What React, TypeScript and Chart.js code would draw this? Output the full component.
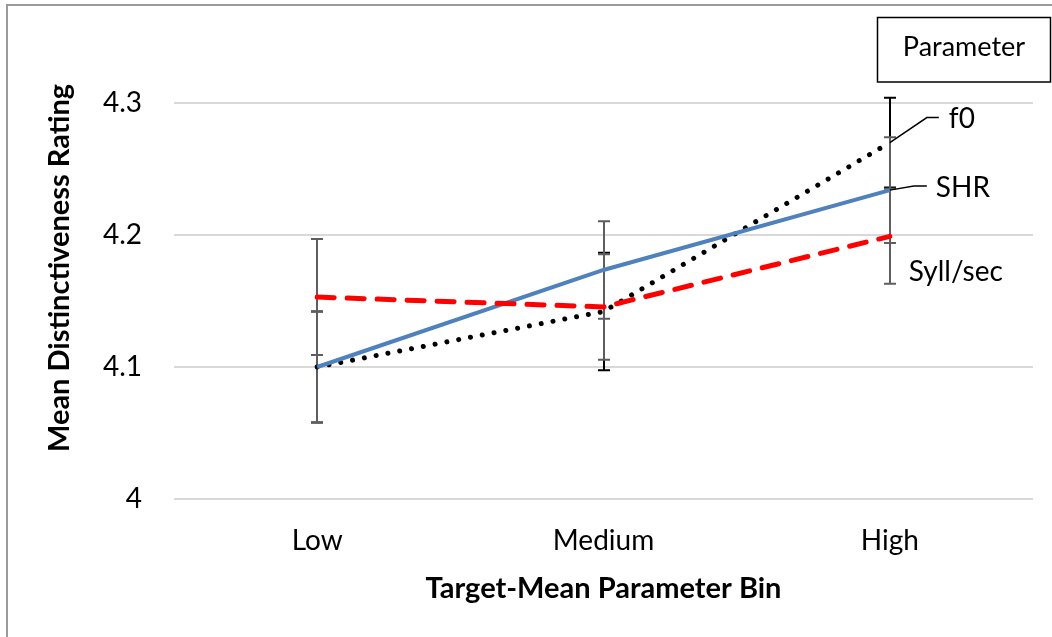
import { useEffect, useRef } from "react";
import { Chart, registerables } from "chart.js";

Chart.register(...registerables);

// Bin categories along the x axis
const categories = ["Low", "Medium", "High"];

// Mean ratings and error half-widths per parameter
const f0Means = [4.1, 4.142, 4.27];
const f0Errors = [0.042, 0.0445, 0.034];
const shrMeans = [4.1, 4.1735, 4.234];
const shrErrors = [0.042, 0.037, 0.04];
const syllMeans = [4.153, 4.1455, 4.199];
const syllErrors = [0.044, 0.04, 0.036];

// Value-axis tick marks
const yTicks = [4, 4.1, 4.2, 4.3];

const FONT = "Lato, 'Open Sans', sans-serif";
const W = 1052;
const H = 637;

// Dataset index order: 0 = Syll/sec, 1 = SHR, 2 = f0
const errorSets = [syllErrors, shrErrors, f0Errors];
const errorColors = ["#5e5e5e", "#5e5e5e", "#000000"];
// f0 bars go underneath, the grey ones on top
const errorDrawOrder = [2, 0, 1];

// Outer frame of the chart object
const framePlugin = {
  id: "frame",
  beforeDraw(chart: any) {
    const { ctx } = chart;
    ctx.save();
    ctx.fillStyle = "#ffffff";
    ctx.fillRect(0, 0, W, H);
    ctx.strokeStyle = "#9a9a9a";
    ctx.lineWidth = 2;
    ctx.beginPath();
    ctx.moveTo(7, H);
    ctx.lineTo(7, 5);
    ctx.lineTo(W, 5);
    ctx.stroke();
    ctx.restore();
  },
};

// Vertical error bars with caps, using the chart's own scales
const errorBarPlugin = {
  id: "errorBars",
  beforeDatasetsDraw(chart: any) {
    const { ctx } = chart;
    const yScale = chart.scales.y;
    ctx.save();
    ctx.lineWidth = 2;
    errorDrawOrder.forEach((di) => {
      const ds = chart.data.datasets[di];
      const meta = chart.getDatasetMeta(di);
      const errs = errorSets[di];
      ctx.strokeStyle = errorColors[di];
      meta.data.forEach((pt: any, i: number) => {
        const v = ds.data[i];
        const top = yScale.getPixelForValue(v + errs[i]);
        const bot = yScale.getPixelForValue(v - errs[i]);
        const x = Math.round(pt.x);
        ctx.beginPath();
        ctx.moveTo(x, top);
        ctx.lineTo(x, bot);
        ctx.moveTo(x - 6, top);
        ctx.lineTo(x + 6, top);
        ctx.moveTo(x - 6, bot);
        ctx.lineTo(x + 6, bot);
        ctx.stroke();
      });
    });
    ctx.restore();
  },
};

// Series names written next to the last point of each line
const endLabelPlugin = {
  id: "endLabels",
  afterDatasetsDraw(chart: any) {
    const { ctx } = chart;
    const last = (di: number) => {
      const m = chart.getDatasetMeta(di);
      return m.data[m.data.length - 1];
    };
    const name = (di: number) => chart.data.datasets[di].label;
    ctx.save();
    ctx.font = `28px ${FONT}`;
    ctx.fillStyle = "#000";
    ctx.strokeStyle = "#000";
    ctx.lineWidth = 1.5;
    ctx.textBaseline = "middle";
    ctx.textAlign = "left";

    // f0 with a bent leader line
    const pf = last(2);
    ctx.beginPath();
    ctx.moveTo(pf.x, pf.y);
    ctx.lineTo(pf.x + 37, pf.y - 25);
    ctx.lineTo(pf.x + 49, pf.y - 25);
    ctx.stroke();
    ctx.fillText(name(2), pf.x + 59, pf.y - 24);

    // SHR with a short leader line
    const ps = last(1);
    ctx.beginPath();
    ctx.moveTo(ps.x, ps.y);
    ctx.lineTo(ps.x + 24, ps.y - 4);
    ctx.lineTo(ps.x + 37, ps.y - 4);
    ctx.stroke();
    ctx.fillText(name(1), ps.x + 46, ps.y - 2);

    // Syll/sec below its point
    const py = last(0);
    ctx.fillText(name(0), py.x + 19, py.y + 36);

    // Legend-title box
    ctx.lineWidth = 1.5;
    ctx.strokeRect(877.5, 17.5, 173, 64.5);
    ctx.font = `27px ${FONT}`;
    ctx.textAlign = "center";
    ctx.fillText("Parameter", 964, 47);
    ctx.restore();
  },
};

export default function App() {
  const canvasRef = useRef<HTMLCanvasElement | null>(null);

  useEffect(() => {
    const canvas = canvasRef.current;
    if (!canvas) return;
    const chart = new Chart(canvas, {
      type: "line",
      data: {
        labels: categories,
        datasets: [
          {
            label: "Syll/sec",
            data: syllMeans,
            borderColor: "#ff0000",
            borderWidth: 5,
            borderDash: [17, 13],
            borderCapStyle: "round",
            pointRadius: 0,
            fill: false,
            tension: 0,
          },
          {
            label: "SHR",
            data: shrMeans,
            borderColor: "#4f81bd",
            borderWidth: 4,
            pointRadius: 0,
            fill: false,
            tension: 0,
          },
          {
            label: "f0",
            data: f0Means,
            borderColor: "#000000",
            borderWidth: 5,
            borderDash: [0.01, 12],
            borderCapStyle: "round",
            pointRadius: 0,
            fill: false,
            tension: 0,
          },
        ],
      },
      options: {
        responsive: false,
        animation: false,
        layout: { padding: { left: 0, top: 37, right: 19, bottom: 0 } },
        plugins: {
          legend: { display: false },
          tooltip: { enabled: false },
        },
        scales: {
          x: {
            type: "category",
            offset: true,
            grid: { display: false, drawTicks: false },
            border: { display: false },
            ticks: {
              color: "#000",
              padding: 25,
              font: { family: FONT, size: 28 },
            },
            title: {
              display: true,
              text: "Target-Mean Parameter Bin",
              color: "#000",
              font: { family: FONT, size: 29, weight: "bold" },
              padding: { top: 0, bottom: 31 },
            },
            afterFit(scale: any) {
              scale.height = H - 499;
            },
          },
          y: {
            min: 4,
            max: 4.35,
            grid: { color: "#d9d9d9", lineWidth: 2, drawTicks: false },
            border: { display: false },
            afterBuildTicks(scale: any) {
              scale.ticks = yTicks.map((v) => ({ value: v }));
            },
            ticks: {
              color: "#000",
              padding: 32,
              font: { family: FONT, size: 28 },
              callback: (v: any) => String(Number(Number(v).toFixed(2))),
            },
            title: {
              display: true,
              text: "Mean Distinctiveness Rating",
              color: "#000",
              font: { family: FONT, size: 29, weight: "bold" },
              padding: { top: 42, bottom: 0 },
            },
            afterFit(scale: any) {
              scale.width = 174;
              // plot area edges come from the layout padding alone
              scale.paddingTop = 0;
              scale.paddingBottom = 0;
            },
          },
        },
      },
      plugins: [framePlugin, errorBarPlugin, endLabelPlugin],
    });
    return () => chart.destroy();
  }, []);

  return (
    <div style={{ position: "absolute", left: 0, top: 0, width: W, height: H, background: "#fff" }}>
      <canvas ref={canvasRef} width={W} height={H} />
    </div>
  );
}
